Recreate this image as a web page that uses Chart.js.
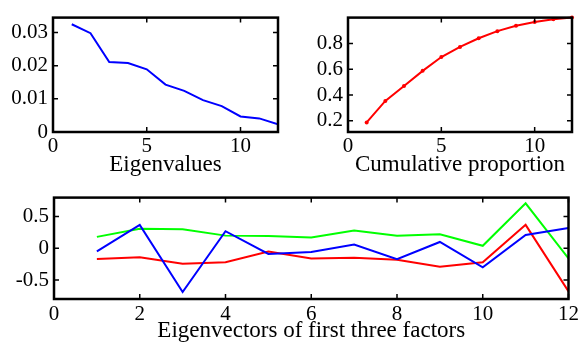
<!DOCTYPE html>
<html>
<head>
<meta charset="utf-8">
<script src="https://cdn.jsdelivr.net/npm/chart.js@4"></script>
<style>
  html, body { margin: 0; padding: 0; background: #fff; overflow: hidden; width: 582px; height: 343px; }
  canvas { position: absolute; }
</style>
</head>
<body>
<canvas id="eigChart" width="290" height="180" style="left:0;top:0"></canvas>
<canvas id="cumChart" width="292" height="180" style="left:290px;top:0"></canvas>
<canvas id="vecChart" width="582" height="172" style="left:0;top:180px"></canvas>
<script>
// factor index on the x axis
const factorIdx = [1, 2, 3, 4, 5, 6, 7, 8, 9, 10, 11, 12];

// eigenvalues and their cumulative proportion
const eigenvalues = [0.0325, 0.0298, 0.0211, 0.0208, 0.0189, 0.0143, 0.0124, 0.0096, 0.0078, 0.0047, 0.0041, 0.0023];
const cumulative = [0.187, 0.354, 0.47, 0.587, 0.694, 0.773, 0.84, 0.895, 0.937, 0.966, 0.988, 1.0];

// eigenvectors of first three factors
const vecRed = [-0.17, -0.14, -0.245, -0.22, -0.05, -0.16, -0.15, -0.18, -0.29, -0.22, 0.37, -0.68];
const vecGreen = [0.18, 0.31, 0.30, 0.20, 0.195, 0.17, 0.28, 0.20, 0.22, 0.04, 0.71, -0.16];
const vecBlue = [-0.05, 0.37, -0.69, 0.27, -0.09, -0.06, 0.06, -0.17, 0.10, -0.30, 0.21, 0.32];

// tick labels
const eigXTicks = [0, 5, 10];
const eigYTicks = [0, 0.01, 0.02, 0.03];
const cumYTicks = [0.2, 0.4, 0.6, 0.8];
const vecXTicks = [0, 2, 4, 6, 8, 10, 12];
const vecYTicks = [-0.5, 0, 0.5];

Chart.defaults.font.family = "'Liberation Serif', 'Times New Roman', serif";
Chart.defaults.color = "#000";
Chart.defaults.animation = false;

const pts = vals => vals.map((v, i) => ({ x: factorIdx[i], y: v }));
const setTicks = list => s => { s.ticks = list.map(v => ({ value: v })); };

// matlab style box with inward ticks on all four sides
const boxPlugin = {
  id: "box",
  afterDatasetsDraw(chart) {
    const { ctx, chartArea: a, scales } = chart;
    const x = scales.x, y = scales.y;
    ctx.save();
    ctx.strokeStyle = "#000";
    ctx.lineWidth = 1.5;
    ctx.beginPath();
    x.ticks.forEach(t => {
      const px = x.getPixelForValue(t.value);
      ctx.moveTo(px, a.bottom); ctx.lineTo(px, a.bottom - 5);
      ctx.moveTo(px, a.top); ctx.lineTo(px, a.top + 5);
    });
    y.ticks.forEach(t => {
      const py = y.getPixelForValue(t.value);
      ctx.moveTo(a.left, py); ctx.lineTo(a.left + 5, py);
      ctx.moveTo(a.right, py); ctx.lineTo(a.right - 5, py);
    });
    ctx.stroke();
    ctx.lineWidth = 2.5;
    ctx.strokeRect(a.left, a.top, a.right - a.left, a.bottom - a.top);
    ctx.restore();
  }
};

function makeScales(o) {
  return {
    x: {
      type: "linear", min: 0, max: 12,
      afterBuildTicks: setTicks(o.xTicks),
      afterFit: s => { s.height = o.xHeight; },
      grid: { display: false, drawTicks: false }, border: { display: false },
      ticks: { font: { size: 21 }, padding: o.xPad, maxRotation: 0, autoSkip: false },
      title: { display: true, text: o.title, font: { size: 23 }, padding: { top: 0, bottom: o.titlePad } }
    },
    y: {
      type: "linear", min: o.yMin, max: o.yMax,
      afterBuildTicks: setTicks(o.yTicks),
      afterFit: s => { s.width = o.yWidth; },
      grid: { display: false, drawTicks: false }, border: { display: false },
      ticks: { font: { size: 21 }, padding: 5, autoSkip: false }
    }
  };
}

const common = {
  responsive: false,
  devicePixelRatio: 1,
  plugins: { legend: { display: false }, tooltip: { enabled: false } },
  elements: { line: { tension: 0, borderWidth: 2 }, point: { radius: 0 } }
};

new Chart(document.getElementById("eigChart"), {
  type: "line",
  data: { datasets: [{ data: pts(eigenvalues), borderColor: "#0000ff" }] },
  options: Object.assign({}, common, {
    layout: { autoPadding: false, padding: { left: 0, top: 13, right: 12, bottom: 0 } },
    scales: makeScales({ xTicks: eigXTicks, yTicks: eigYTicks, yMin: 0, yMax: 0.0345, xHeight: 48, yWidth: 53, xPad: 2, title: "Eigenvalues", titlePad: 1.2 })
  }),
  plugins: [boxPlugin]
});

new Chart(document.getElementById("cumChart"), {
  type: "line",
  data: { datasets: [{ data: pts(cumulative), borderColor: "#ff0000", pointRadius: 2, pointBackgroundColor: "#ff0000", pointBorderWidth: 0, clip: 4 }] },
  options: Object.assign({}, common, {
    layout: { autoPadding: false, padding: { left: 0, top: 12, right: 10, bottom: 0 } },
    scales: makeScales({ xTicks: eigXTicks, yTicks: cumYTicks, yMin: 0.113, yMax: 1.0, xHeight: 48, yWidth: 58, xPad: 2, title: "Cumulative proportion", titlePad: 1.2 })
  }),
  plugins: [boxPlugin]
});

new Chart(document.getElementById("vecChart"), {
  type: "line",
  data: {
    datasets: [
      { data: pts(vecRed), borderColor: "#ff0000", order: 3 },
      { data: pts(vecGreen), borderColor: "#00ff00", order: 2 },
      { data: pts(vecBlue), borderColor: "#0000ff", order: 1 }
    ]
  },
  options: Object.assign({}, common, {
    layout: { autoPadding: false, padding: { left: 0, top: 17, right: 11, bottom: 0 } },
    scales: makeScales({ xTicks: vecXTicks, yTicks: vecYTicks, yMin: -0.8, yMax: 0.8, xHeight: 53, yWidth: 54, xPad: 3, title: "Eigenvectors of first three factors", titlePad: 7.2 })
  }),
  plugins: [boxPlugin]
});
</script>
</body>
</html>
